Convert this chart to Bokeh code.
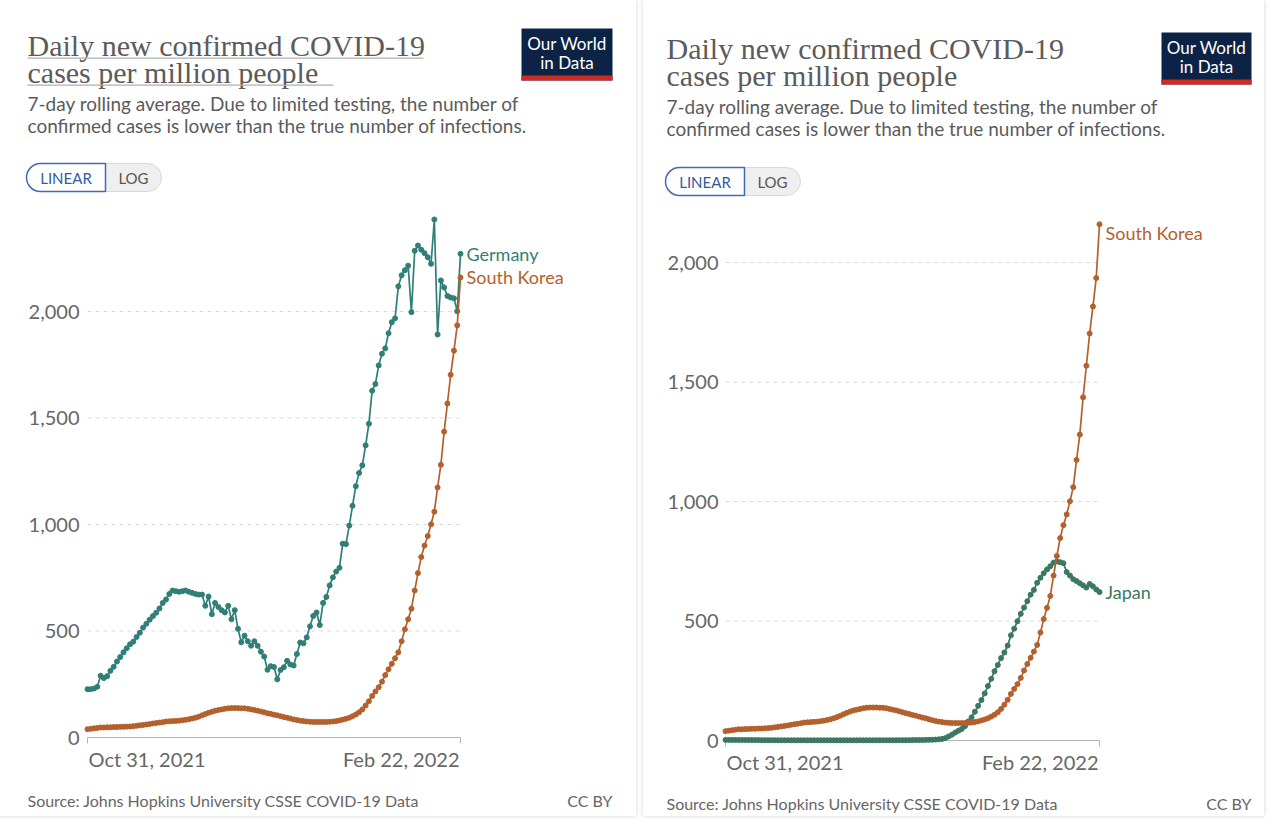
import pandas as pd
from bokeh.plotting import figure
from bokeh.models import Range1d, Label, BoxAnnotation, ColumnDataSource
from bokeh.core.properties import value
from bokeh.layouts import row
from bokeh.embed import file_html
from bokeh.resources import INLINE

# ---------------- data ----------------
dates = pd.date_range("2021-10-31", "2022-02-22", freq="D")

germany = [
    227, 227, 230, 238, 290, 279, 288, 313, 332, 357,
    378, 400, 419, 438, 450, 472, 492, 516, 534, 553,
    570, 586, 606, 632, 648, 674, 690, 687, 684, 687,
    690, 684, 679, 674, 671, 671, 618, 662, 579, 632,
    613, 598, 587, 618, 555, 598, 510, 447, 478, 452,
    431, 452, 431, 403, 380, 318, 335, 331, 273, 317,
    330, 360, 343, 338, 392, 446, 442, 470, 522, 571,
    587, 528, 632, 660, 714, 752, 779, 797, 910, 908,
    995, 1088, 1180, 1242, 1278, 1372, 1473, 1628, 1660, 1747,
    1802, 1827, 1898, 1950, 1968, 2118, 2170, 2194, 2215, 1997,
    2285, 2310, 2290, 2274, 2255, 2224, 2432, 1892, 2146, 2113,
    2073, 2066, 2062, 2001, 2271,
]

south_korea = [
    39, 41, 43, 45, 47, 47, 48, 48, 49, 49,
    50, 50, 51, 52, 53, 55, 57, 59, 61, 63,
    66, 68, 70, 72, 75, 76, 77, 78, 79, 81,
    83, 86, 89, 93, 98, 104, 110, 116, 121, 126,
    129, 132, 135, 137, 138, 138, 138, 137, 137, 135,
    132, 129, 126, 122, 118, 114, 111, 107, 104, 100,
    96, 93, 89, 85, 82, 79, 77, 75, 74, 73,
    73, 73, 73, 73, 74, 75, 77, 80, 84, 88,
    93, 100, 108, 118, 132, 150, 170, 195, 216, 236,
    262, 293, 320, 346, 372, 400, 452, 508, 555, 605,
    690, 772, 847, 901, 946, 1001, 1060, 1174, 1280, 1436,
    1568, 1703, 1816, 1935, 2160,
]

japan = [
    2.6, 2.5, 2.4, 2.3, 2.2, 2.1, 2.0, 1.9, 1.8, 1.7,
    1.6, 1.5, 1.4, 1.3, 1.2, 1.2, 1.1, 1.1, 1.0, 1.0,
    1.0, 1.0, 1.0, 0.9, 0.9, 0.9, 0.9, 0.9, 0.9, 0.9,
    0.9, 0.9, 0.9, 0.9, 0.9, 0.9, 0.9, 0.9, 0.9, 0.9,
    1.0, 1.0, 1.0, 1.0, 1.0, 1.0, 1.0, 1.0, 1.0, 1.0,
    1.1, 1.1, 1.2, 1.2, 1.3, 1.4, 1.5, 1.6, 1.8, 2.0,
    2.2, 2.5, 2.8, 3.2, 3.8, 4.8, 6.5, 10, 17, 24,
    33, 41, 48, 60, 80, 97, 120, 145, 169, 197,
    228, 258, 290, 316, 345, 368, 397, 440, 468, 499,
    530, 556, 583, 610, 630, 660, 681, 700, 716, 729,
    744, 749, 746, 742, 705, 690, 675, 667, 658, 649,
    640, 655, 645, 632, 621,
]

y_ticks = [0, 500, 1000, 1500, 2000]
x_tick_labels = ["Oct 31, 2021", "Feb 22, 2022"]
title_lines = ["Daily new confirmed COVID-19", "cases per million people"]
subtitle_lines = ["7-day rolling average. Due to limited testing, the number of",
                  "confirmed cases is lower than the true number of infections."]
source_text = "Source: Johns Hopkins University CSSE COVID-19 Data"
license_text = "CC BY"
logo_lines = ["Our World", "in Data"]

# ---------------- styles ----------------
C_GER = "#2f7f78"
C_KOR = "#b4602d"
C_JPN = "#3a7862"
TXT = "#5b5b5b"
AX = "#666666"
SANS = "Lato"
SERIF = "Liberation Serif"
H = 816

t0 = dates[0]
t1 = dates[-1]
t0_ms = t0.value / 1e6
t1_ms = t1.value / 1e6


def card(cfg, series):
    W, ox = cfg["W"], cfg["ox"]
    x0p, x1p = cfg["xpix"]
    y0p, y2000p = cfg["ypix"]
    ms_px = (t1_ms - t0_ms) / (x1p - x0p)
    u_px = 2000.0 / (y0p - y2000p)
    fx0 = x0p - ox  # frame-local pixel of first date

    p = figure(width=W, height=H, x_axis_type="datetime",
               x_axis_location=None, y_axis_location=None,
               output_backend="svg", toolbar_location=None,
               x_range=Range1d(t0_ms - fx0 * ms_px, t0_ms + (W - fx0) * ms_px),
               y_range=Range1d(-(H - y0p) * u_px, y0p * u_px),
               min_border=0, background_fill_color="white",
               border_fill_color="white", outline_line_color=None)
    p.grid.visible = False
    p.styles = {"box-shadow": "0 0 4px rgba(0,0,0,0.18)"}

    def text(X, Y, s, size, color=TXT, font=SANS, align="left"):
        p.add_layout(Label(x=X - ox, y=H - Y, x_units="screen", y_units="screen",
                           text=s, text_font=font, text_font_size=size,
                           text_color=color, text_align=align, text_baseline="middle"))

    def box(X1, Y1, X2, Y2, fill, line=None, lw=1, radius=0):
        p.add_layout(BoxAnnotation(left=X1 - ox, right=X2 - ox, top=H - Y1, bottom=H - Y2,
                                   left_units="screen", right_units="screen",
                                   top_units="screen", bottom_units="screen",
                                   fill_color=fill, fill_alpha=1,
                                   line_color=line, line_width=lw, line_alpha=1,
                                   border_radius=radius))

    # grid lines (dashed) at y ticks
    n = len(y_ticks) - 1
    grid = ColumnDataSource(dict(x0=[t0] * n, x1=[t1] * n, y=y_ticks[1:]))
    p.segment(x0="x0", x1="x1", y0="y", y1="y", source=grid,
              line_color="#dadada", line_width=1, line_dash="4 4")

    # x axis line + end ticks
    p.segment(x0=[t0], x1=[t1], y0=[0], y1=[0], line_color="#b5b5b5", line_width=1)
    p.segment(x0=[t0, t1], x1=[t0, t1], y0=[0, 0], y1=[-6 * u_px, -6 * u_px],
              line_color="#b5b5b5", line_width=1)

    # y tick labels
    ylab = ColumnDataSource(dict(x=[t0] * len(y_ticks), y=y_ticks,
                                 t=[f"{v:,}" for v in y_ticks]))
    p.text(x="x", y="y", text="t", source=ylab, x_offset=-cfg["ystand"],
           text_align="right", text_baseline="middle",
           text_font=value(SANS), text_font_size=value("20px"), text_color=AX)

    # x tick labels (first left-aligned, last right-aligned)
    xlab = ColumnDataSource(dict(x=[t0, t1], y=[0, 0], t=x_tick_labels,
                                 a=["left", "right"], dx=[1, -1]))
    p.text(x="x", y="y", text="t", source=xlab, x_offset="dx", y_offset=cfg["xlab_dy"],
           text_align="a", text_baseline="middle",
           text_font=value(SANS), text_font_size=value("20px"), text_color=AX)

    # series
    for name, vals, color in series:
        src = ColumnDataSource(dict(x=dates, y=vals))
        p.line("x", "y", source=src, line_color=color, line_width=1.7)
        p.scatter("x", "y", source=src, size=5, marker="circle",
                  fill_color=color, line_color=color)

    # series end labels
    for name, vals, color, dy in cfg["labels"]:
        p.add_layout(Label(x=t1_ms, y=vals[-1], text=name, x_offset=6, y_offset=dy,
                           text_font=SANS, text_font_size="18px", text_color=color,
                           text_align="left", text_baseline="middle"))

    # header
    tx = cfg["tx"]
    for i, s in enumerate(title_lines):
        text(tx, cfg["title_y"][i], s, "30px", font=SERIF)
    if cfg["underline"]:
        for (x2, yy) in cfg["underline"]:
            box(tx, yy, x2, yy + 1.2, "#b0b0b0")
    for i, s in enumerate(subtitle_lines):
        text(tx, cfg["sub_y"][i], s, "19px")

    # toggle
    gx1, gmid, gx2, gy1, gy2 = cfg["toggle"]
    box(gx1, gy1, gx2, gy2, "#efefef", "#d8d8d8", 1, 14)
    box(gx1, gy1, gmid, gy2, "white", "#3f6bb0", 1.5, (14, 0, 0, 14))
    text((gx1 + gmid) / 2, (gy1 + gy2) / 2, "LINEAR", "15px", color="#2d5d9f", align="center")
    text((gmid + gx2) / 2, (gy1 + gy2) / 2, "LOG", "15px", color="#555555", align="center")

    # logo
    lx1, lx2, ly1, ly2 = cfg["logo"]
    box(lx1, ly1, lx2, ly2, "#0d2346")
    box(lx1, ly2 - 5, lx2, ly2, "#ce2b22")
    text((lx1 + lx2) / 2, ly1 + 15, logo_lines[0], "17px", color="white", align="center")
    text((lx1 + lx2) / 2, ly1 + 34, logo_lines[1], "17px", color="white", align="center")

    # footer
    text(tx, cfg["foot_y"], source_text, "16px", color=AX)
    text(lx2, cfg["foot_y"], license_text, "16px", color=AX, align="right")
    return p


left_cfg = dict(
    W=636, ox=0, xpix=(87, 460), ypix=(737, 311), ystand=8, xlab_dy=21,
    tx=27, title_y=(45, 72), underline=[(423, 57), (333, 84)],
    sub_y=(103, 125), toggle=(26, 105, 161, 163, 191), logo=(521, 612, 28, 80),
    foot_y=800,
    labels=[("Germany", germany, C_GER, 0), ("South Korea", south_korea, C_KOR, 0)],
)
right_cfg = dict(
    W=621, ox=643, xpix=(725, 1099), ypix=(740, 262), ystand=7, xlab_dy=21,
    tx=666, title_y=(48, 75), underline=None,
    sub_y=(106, 128), toggle=(665, 744, 800, 167, 195), logo=(1161, 1251, 32, 84),
    foot_y=803,
    labels=[("South Korea", south_korea, C_KOR, -9), ("Japan", japan, C_JPN, 0)],
)

p1 = card(left_cfg, [("Germany", germany, C_GER), ("South Korea", south_korea, C_KOR)])
p2 = card(right_cfg, [("Japan", japan, C_JPN), ("South Korea", south_korea, C_KOR)])

layout = row(p1, p2, spacing=7)
open("out.html", "w").write(file_html(layout, INLINE))
